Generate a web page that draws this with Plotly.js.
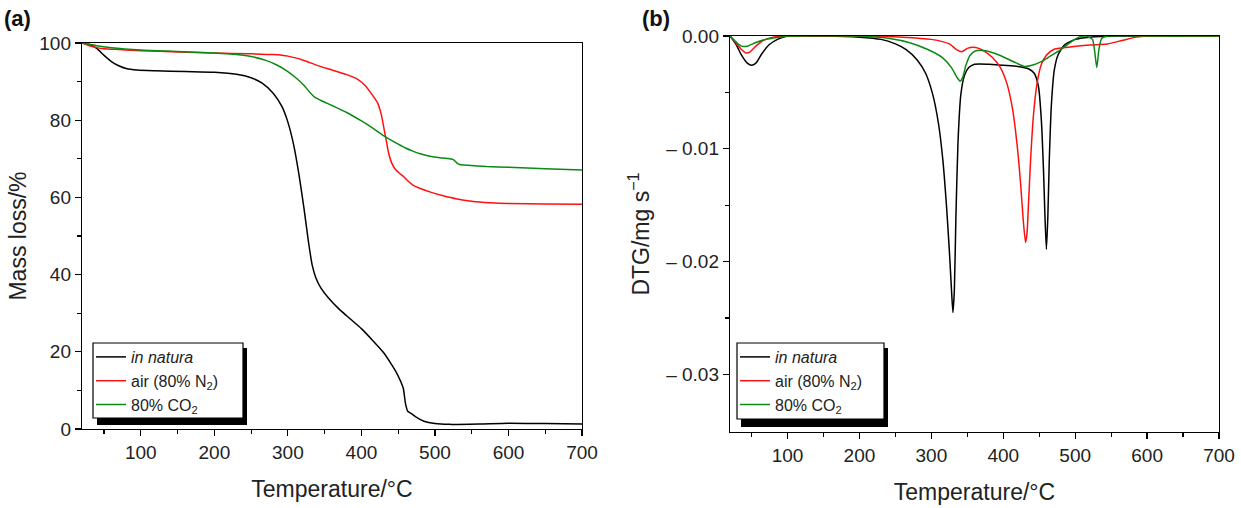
<!DOCTYPE html>
<html>
<head>
<meta charset="utf-8">
<script src="https://cdn.plot.ly/plotly-3.0.1.min.js"></script>
<style>html,body{margin:0;padding:0;background:#fff}#chart{width:1241px;height:508px}</style>
</head>
<body>
<div id="chart"></div>
<script>
// ---- Panel (a): TG mass loss (%) ----
const tgNaturaT = [20, 30, 40, 50, 60, 70, 80, 95, 120, 160, 200, 230, 250, 265, 280, 292, 300, 308, 315, 322, 328, 333, 338, 345, 355, 370, 385, 400, 415, 430, 440, 448, 453, 457, 460, 463, 468, 475, 485, 500, 520, 560, 600, 650, 700];
const tgNaturaM = [100, 99.6, 98.6, 96.8, 95.2, 94.1, 93.4, 93.0, 92.8, 92.6, 92.4, 91.9, 91.0, 89.6, 87.0, 83.5, 79.5, 73.5, 66.0, 57.0, 48.5, 42.5, 39.2, 36.5, 34.0, 31.0, 28.5, 26.0, 23.0, 19.8, 17.0, 14.5, 12.5, 10.5, 6.5, 4.6, 4.0, 3.0, 2.0, 1.4, 1.2, 1.3, 1.5, 1.4, 1.3];

const tgAirT = [20, 30, 40, 50, 70, 100, 150, 200, 250, 280, 300, 320, 340, 360, 380, 395, 405, 415, 422, 427, 431, 434, 437, 441, 446, 452, 458, 463, 470, 480, 495, 510, 530, 550, 575, 600, 650, 700];
const tgAirM = [100, 99.3, 98.8, 98.5, 98.3, 98.0, 97.7, 97.4, 97.2, 97.0, 96.6, 95.6, 94.2, 93.0, 91.8, 90.6, 89.0, 86.5, 84.5, 81.5, 77.5, 74.5, 71.5, 69.0, 67.3, 66.2, 65.3, 64.3, 63.2, 62.3, 61.3, 60.5, 59.6, 59.0, 58.6, 58.4, 58.3, 58.2];

const tgCo2T = [20, 30, 40, 60, 100, 150, 200, 230, 250, 270, 285, 300, 312, 322, 330, 337, 345, 360, 380, 400, 415, 430, 445, 460, 470, 480, 495, 510, 525, 530, 534, 545, 570, 600, 650, 700];
const tgCo2M = [100, 99.7, 99.3, 98.8, 98.2, 97.8, 97.4, 97.0, 96.5, 95.5, 94.3, 92.6, 90.8, 89.0, 87.2, 85.9, 85.1, 83.8, 82.0, 79.8, 78.0, 76.0, 74.3, 72.8, 72.0, 71.3, 70.6, 70.2, 69.8, 68.9, 68.5, 68.3, 68.0, 67.8, 67.4, 67.1];

// ---- Panel (b): DTG (mg s^-1) ----
const dtgNaturaT = [20, 28, 36, 44, 50, 56, 64, 74, 86, 100, 150, 200, 230, 250, 265, 280, 292, 302, 310, 316, 321, 325, 328, 330, 332, 334, 337, 341, 346, 352, 360, 380, 400, 420, 435, 443, 449, 453, 456, 458, 460, 462, 464, 467, 471, 476, 485, 500, 520, 560, 600, 700];
const dtgNaturaV = [0, -0.0007, -0.0017, -0.0024, -0.0026, -0.0024, -0.0016, -0.0008, -0.0003, 0, 0, -0.0001, -0.0003, -0.0007, -0.0012, -0.0021, -0.0033, -0.0052, -0.0078, -0.0110, -0.0150, -0.0190, -0.0225, -0.0245, -0.0225, -0.0165, -0.0095, -0.0052, -0.0035, -0.0028, -0.0025, -0.0025, -0.0026, -0.0027, -0.0029, -0.0033, -0.0045, -0.0075, -0.0120, -0.0160, -0.0189, -0.0160, -0.0110, -0.0060, -0.0030, -0.0017, -0.0008, -0.0003, -0.0001, 0, 0, 0];

const dtgAirT = [20, 28, 36, 42, 48, 56, 66, 80, 100, 200, 260, 300, 325, 335, 342, 350, 358, 366, 375, 385, 395, 405, 413, 419, 424, 428, 431, 433, 435, 438, 442, 447, 453, 460, 470, 490, 520, 545, 565, 585, 600, 700];
const dtgAirV = [0, -0.0006, -0.0012, -0.0015, -0.0014, -0.0009, -0.0004, -0.0001, 0, 0, -0.0001, -0.0003, -0.0007, -0.0012, -0.0014, -0.0011, -0.0010, -0.0011, -0.0014, -0.0019, -0.0027, -0.0042, -0.0065, -0.0095, -0.0130, -0.0165, -0.0183, -0.0175, -0.0150, -0.0110, -0.0070, -0.0042, -0.0025, -0.0017, -0.0012, -0.0010, -0.0008, -0.0007, -0.0004, -0.0001, 0, 0];

const dtgCo2T = [20, 28, 36, 44, 55, 70, 90, 100, 200, 240, 270, 295, 315, 328, 335, 340, 344, 348, 354, 362, 375, 395, 415, 430, 440, 452, 465, 480, 495, 505, 515, 524, 527, 530, 533, 537, 545, 600, 700];
const dtgCo2V = [0, -0.0005, -0.0009, -0.0009, -0.0006, -0.0003, -0.0001, 0, 0, -0.0002, -0.0006, -0.0012, -0.0019, -0.0028, -0.0036, -0.0040, -0.0036, -0.0026, -0.0017, -0.0013, -0.0013, -0.0017, -0.0023, -0.0027, -0.0026, -0.0023, -0.0018, -0.0012, -0.0005, -0.0001, 0, -0.0003, -0.0013, -0.0028, -0.0012, -0.0002, 0, 0, 0];

const seriesNames = ['<i>in natura</i>', 'air (80% N<sub>2</sub>)', '80% CO<sub>2</sub>'];
const seriesColors = ['#000000', '#ff1010', '#0a8a14'];
const xTicks = [100, 200, 300, 400, 500, 600, 700];
const yTicksA = [0, 20, 40, 60, 80, 100];
const yTicksB = [0, -0.01, -0.02, -0.03];
const yTickTextB = ['0.00', '– 0.01', '– 0.02', '– 0.03'];

const FONT = 'Liberation Sans, Arial, Helvetica, sans-serif';

function tr(x, y, i, xa, ya, leg) {
  return {x: x, y: y, xaxis: xa, yaxis: ya, legend: leg, name: seriesNames[i],
    type: 'scatter', mode: 'lines', line: {color: seriesColors[i], width: 1.5, shape: 'spline', smoothing: 0.6},
    showlegend: true};
}

const data = [
  tr(tgNaturaT, tgNaturaM, 0, 'x', 'y', 'legend'),
  tr(tgAirT, tgAirM, 1, 'x', 'y', 'legend'),
  tr(tgCo2T, tgCo2M, 2, 'x', 'y', 'legend'),
  tr(dtgNaturaT, dtgNaturaV, 0, 'x2', 'y2', 'legend2'),
  tr(dtgAirT, dtgAirV, 1, 'x2', 'y2', 'legend2'),
  tr(dtgCo2T, dtgCo2V, 2, 'x2', 'y2', 'legend2')
];

const W = 1241, H = 508;
function px(v) { return v / W; }
function py(v) { return 1 - v / H; }

const axBase = {
  showline: true, linecolor: '#000', linewidth: 1.2, mirror: true,
  showgrid: false, zeroline: false, ticks: 'outside', ticklen: 6, tickwidth: 1.2, tickcolor: '#000',
  tickfont: {family: FONT, size: 19, color: '#222'}
};

const xCommon = Object.assign({}, axBase, {
  range: [20, 700], tickvals: xTicks,
  minor: {tickvals: [50, 150, 250, 350, 450, 550, 650], ticks: 'outside', ticklen: 4, tickwidth: 1.2, tickcolor: '#000'},
  title: {text: 'Temperature/°C', font: {family: FONT, size: 23, color: '#222'}, standoff: 18}
});

function legendBox(x0, y0, x1, y1, sx, sy) {
  return [
    {type: 'rect', xref: 'paper', yref: 'paper', x0: px(x0 + 4), x1: px(x1 + sx), y0: py(y1 + sy), y1: py(y0 + 5),
     fillcolor: '#000', line: {width: 0}, layer: 'above'},
    {type: 'rect', xref: 'paper', yref: 'paper', x0: px(x0), x1: px(x1), y0: py(y1), y1: py(y0),
     fillcolor: '#fff', line: {width: 1.2, color: '#000'}, layer: 'above'}
  ];
}

const legCommon = {
  xanchor: 'left', yanchor: 'top', bgcolor: 'rgba(0,0,0,0)', borderwidth: 0,
  font: {family: FONT, size: 16, color: '#222'}, tracegroupgap: 0, itemwidth: 30
};

const layout = {
  width: W, height: H,
  margin: {l: 0, r: 0, t: 0, b: 0},
  paper_bgcolor: '#fff', plot_bgcolor: '#fff',
  font: {family: FONT, color: '#222'},
  xaxis: Object.assign({}, xCommon, {domain: [px(82), px(582)], anchor: 'y'}),
  yaxis: Object.assign({}, axBase, {
    domain: [py(429), py(43)], range: [0, 100], tickvals: yTicksA, anchor: 'x',
    minor: {tickvals: [10, 30, 50, 70, 90], ticks: 'outside', ticklen: 4, tickwidth: 1.2, tickcolor: '#000'},
    title: {text: 'Mass loss/%', font: {family: FONT, size: 23, color: '#222'}, standoff: 6}
  }),
  xaxis2: Object.assign({}, xCommon, {domain: [px(730), px(1219)], anchor: 'y2'}),
  yaxis2: Object.assign({}, axBase, {
    domain: [py(432), py(36)], range: [-0.0351, 0], tickvals: yTicksB, ticktext: yTickTextB, anchor: 'x2',
    minor: {tickvals: [-0.005, -0.015, -0.025], ticks: 'outside', ticklen: 4, tickwidth: 1.2, tickcolor: '#000'},
    title: {text: 'DTG/mg s<sup>−1</sup>', font: {family: FONT, size: 23, color: '#222'}, standoff: 10}
  }),
  legend: Object.assign({}, legCommon, {x: px(91), y: py(340)}),
  legend2: Object.assign({}, legCommon, {x: px(735), y: py(340)}),
  shapes: [].concat(legendBox(93, 343, 243, 418, 4, 7), legendBox(737, 343, 884, 419, 4, 8)),
  annotations: [
    {text: '<b>(a)</b>', xref: 'paper', yref: 'paper', x: px(2), y: py(4), xanchor: 'left', yanchor: 'top',
     showarrow: false, font: {family: FONT, size: 22, color: '#111'}},
    {text: '<b>(b)</b>', xref: 'paper', yref: 'paper', x: px(640), y: py(4), xanchor: 'left', yanchor: 'top',
     showarrow: false, font: {family: FONT, size: 22, color: '#111'}}
  ],
  showlegend: true
};

Plotly.newPlot('chart', data, layout, {displayModeBar: false, staticPlot: true});
</script>
</body>
</html>
